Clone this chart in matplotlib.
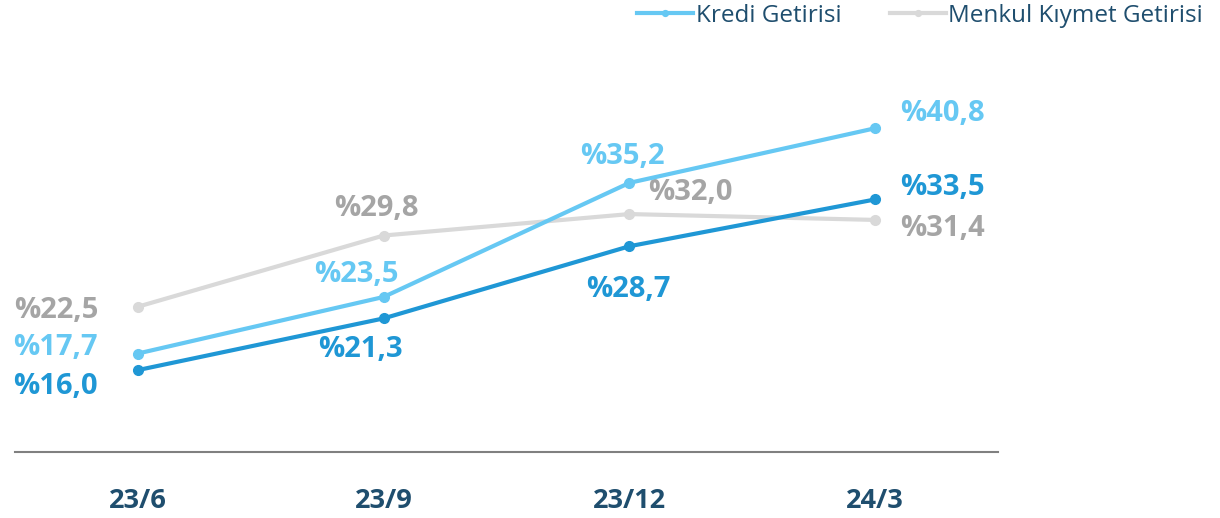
import matplotlib.pyplot as plt

# data
donemler = ['23/6', '23/9', '23/12', '24/3']
kredi = [17.7, 23.5, 35.2, 40.8]
menkul = [22.5, 29.8, 32.0, 31.4]
diger = [16.0, 21.3, 28.7, 33.5]

acik_mavi = '#66C8F3'
koyu_mavi = '#1F97D5'
gri_cizgi = '#D9D9D9'
gri_yazi = '#A5A5A5'
lacivert = '#1F4E6E'

plt.rcParams['font.family'] = ['Open Sans', 'DejaVu Sans']

fig = plt.figure(figsize=(12.2, 5.18), dpi=100)
ax = fig.add_axes([15 / 1220, 66 / 518, 983 / 1220, 392 / 518])

x = range(len(donemler))
ax.plot(x, menkul, color=gri_cizgi, lw=3, marker='o', ms=7, label='Menkul Kıymet Getirisi', zorder=2)
ax.plot(x, diger, color=koyu_mavi, lw=3, marker='o', ms=7, zorder=3)
ax.plot(x, kredi, color=acik_mavi, lw=3, marker='o', ms=7, label='Kredi Getirisi', zorder=4)

ax.set_xlim(-0.5, 3.5)
ax.set_ylim(7.6, 47.8)


def etiket(seri, ofsetler, renk):
    for i, (v, (dx, dy)) in enumerate(zip(seri, ofsetler)):
        ax.annotate('%' + f'{v:.1f}'.replace('.', ','), (i, v),
                    xytext=(dx, dy), textcoords='offset pixels',
                    ha='center', va='center', color=renk,
                    fontsize=21, fontweight='bold')


etiket(menkul, [(-82, -4), (-7, 27), (61, 22), (67, -9)], gri_yazi)
etiket(kredi, [(-82, 6), (-27, 22), (-7, 26), (67, 15)], acik_mavi)
etiket(diger, [(-82, -16), (-23, -31), (-1, -43), (67, 12)], koyu_mavi)

ax.set_xticks(list(x))
ax.set_xticklabels(donemler, fontsize=19.5, fontweight='bold', color=lacivert)
ax.tick_params(axis='x', length=0, pad=26)
ax.set_yticks([])
for s in ['top', 'right', 'left']:
    ax.spines[s].set_visible(False)
ax.spines['bottom'].set_color('#808080')
ax.spines['bottom'].set_linewidth(1.5)

handles, labels = ax.get_legend_handles_labels()
leg = fig.legend(handles[::-1], labels[::-1], loc='upper right',
                 bbox_to_anchor=(1.004, 1.035), ncol=2, frameon=False,
                 fontsize=17.5, handlelength=2.3, columnspacing=2.0,
                 handletextpad=0.1, markerscale=0.6)
for t in leg.get_texts():
    t.set_color(lacivert)

fig.savefig('out.png', dpi=100)
